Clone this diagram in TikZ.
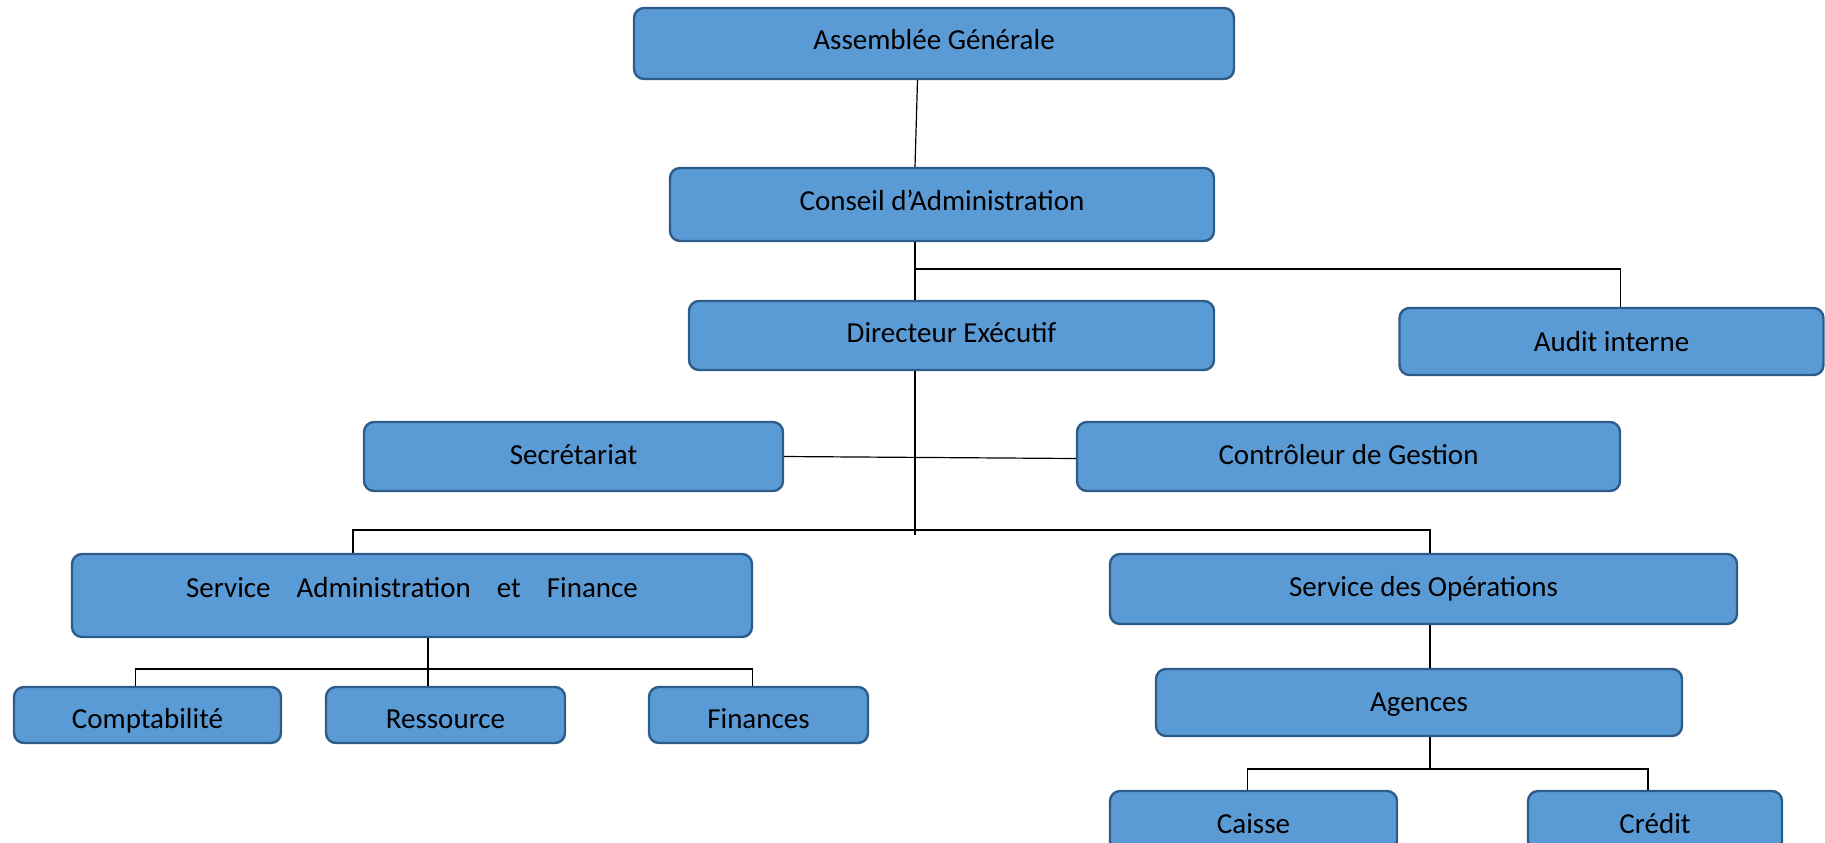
\documentclass[tikz,border=0pt]{standalone}
\usepackage{fontspec}
\setmainfont{Carlito}
\usetikzlibrary{positioning,calc}
\definecolor{bleu}{HTML}{5B9BD5}
\definecolor{bleufonce}{HTML}{2E5C8A}
\tikzset{
  poste/.style={draw=bleufonce, fill=bleu, line width=1.2pt, rounded corners=5pt,
                inner sep=0pt, text=black, text height=10pt, text depth=0pt},
  lien/.style={draw=black, line width=0.6pt}
}
\newcommand{\blanc}{\hskip 13pt}

\begin{document}
\begin{tikzpicture}[x=0.5pt, y=-0.5pt, font=\fontsize{14.5}{17}\selectfont]
    \useasboundingbox (0,0) rectangle (1825,842);
    % direction
    \node[poste, minimum width=300pt, minimum height=35.5pt, text depth=3.6pt] (ag) at (934,43.5) {Assemblée Générale};
    \node[poste, minimum width=272pt, minimum height=36.5pt, text depth=4.4pt] (ca) at (942,204.5) {Conseil d’Administration};
    \node[poste, minimum width=262.5pt, minimum height=34.5pt, text depth=3.4pt] (de) at (951.5,335.5) {Directeur Exécutif};
    \node[poste, minimum width=212pt, minimum height=33.5pt] (audit) at (1611.5,341.5) {Audit interne};
    \node[poste, minimum width=209.5pt, minimum height=34.5pt, text depth=2.2pt] (secr) at (573.5,456.5) {Secrétariat};
    \node[poste, minimum width=271.5pt, minimum height=34.5pt, text depth=2.2pt] (ctrl) at (1348.5,456.5) {Contrôleur de Gestion};
    % services
    \node[poste, minimum width=340pt, minimum height=41.5pt, text depth=8.3pt] (saf) at (412,595.5)
      {Service\blanc Administration\blanc et\blanc Finance};
    \node[poste, minimum width=313.5pt, minimum height=35pt, text depth=2.5pt] (sop) at (1423.5,589) {Service des Opérations};
    \foreach \n/\x/\w/\t in {compta/147.5/133.5/Comptabilité, ress/445.5/119.5/Ressource, fin/758.5/109.5/Finances} {
      \node[poste, minimum width=\w pt, minimum height=28pt, text height=13.5pt] (\n) at (\x,715) {\t};
    }
    \node[poste, minimum width=263pt, minimum height=33.5pt, text height=8.8pt] (agences) at (1419,702.5) {Agences};
    \foreach \n/\x/\w/\t in {caisse/1253.5/143.5/Caisse, credit/1655/127/Crédit} {
      \node[poste, minimum width=\w pt, minimum height=30pt, text height=12.3pt] (\n) at (\x,821) {\t};
    }
    % liaisons
    \coordinate (haut) at (917.5,0);
    \coordinate (axe) at (915,0);
    \draw[lien] (ag.south -| haut) -- (ca.north -| axe);
    \draw[lien] (ca.south -| axe) -- (de.north -| axe);
    \coordinate (embA) at (915,269);
    \draw[lien] (embA) -| ([xshift=4.5pt]audit.north);
    \coordinate (bas) at (915,535);
    \draw[lien] (de.south -| bas) -- (bas);
    \draw[lien] (secr.east) -- ([yshift=-1pt]ctrl.west);
    \coordinate (embG) at (353,530);
    \coordinate (embD) at (1430,530);
    \draw[lien] (saf.north -| embG) |- (embD) -- (sop.north -| embD);
    \coordinate (embS) at (428,669);
    \draw[lien] (saf.south -| embS) -- (ress.north -| embS);
    \draw[lien] ([xshift=-6.2pt]compta.north) |- (embS) -| ([xshift=-3.2pt]fin.north);
    \coordinate (embO) at (1430,769);
    \draw[lien] (sop.south -| embO) -- (agences.north -| embO);
    \draw[lien] (agences.south -| embO) -- (embO);
    \draw[lien] ([xshift=-3.2pt]caisse.north) |- (embO) -| ([xshift=-3.5pt]credit.north);
\end{tikzpicture}
\end{document}
